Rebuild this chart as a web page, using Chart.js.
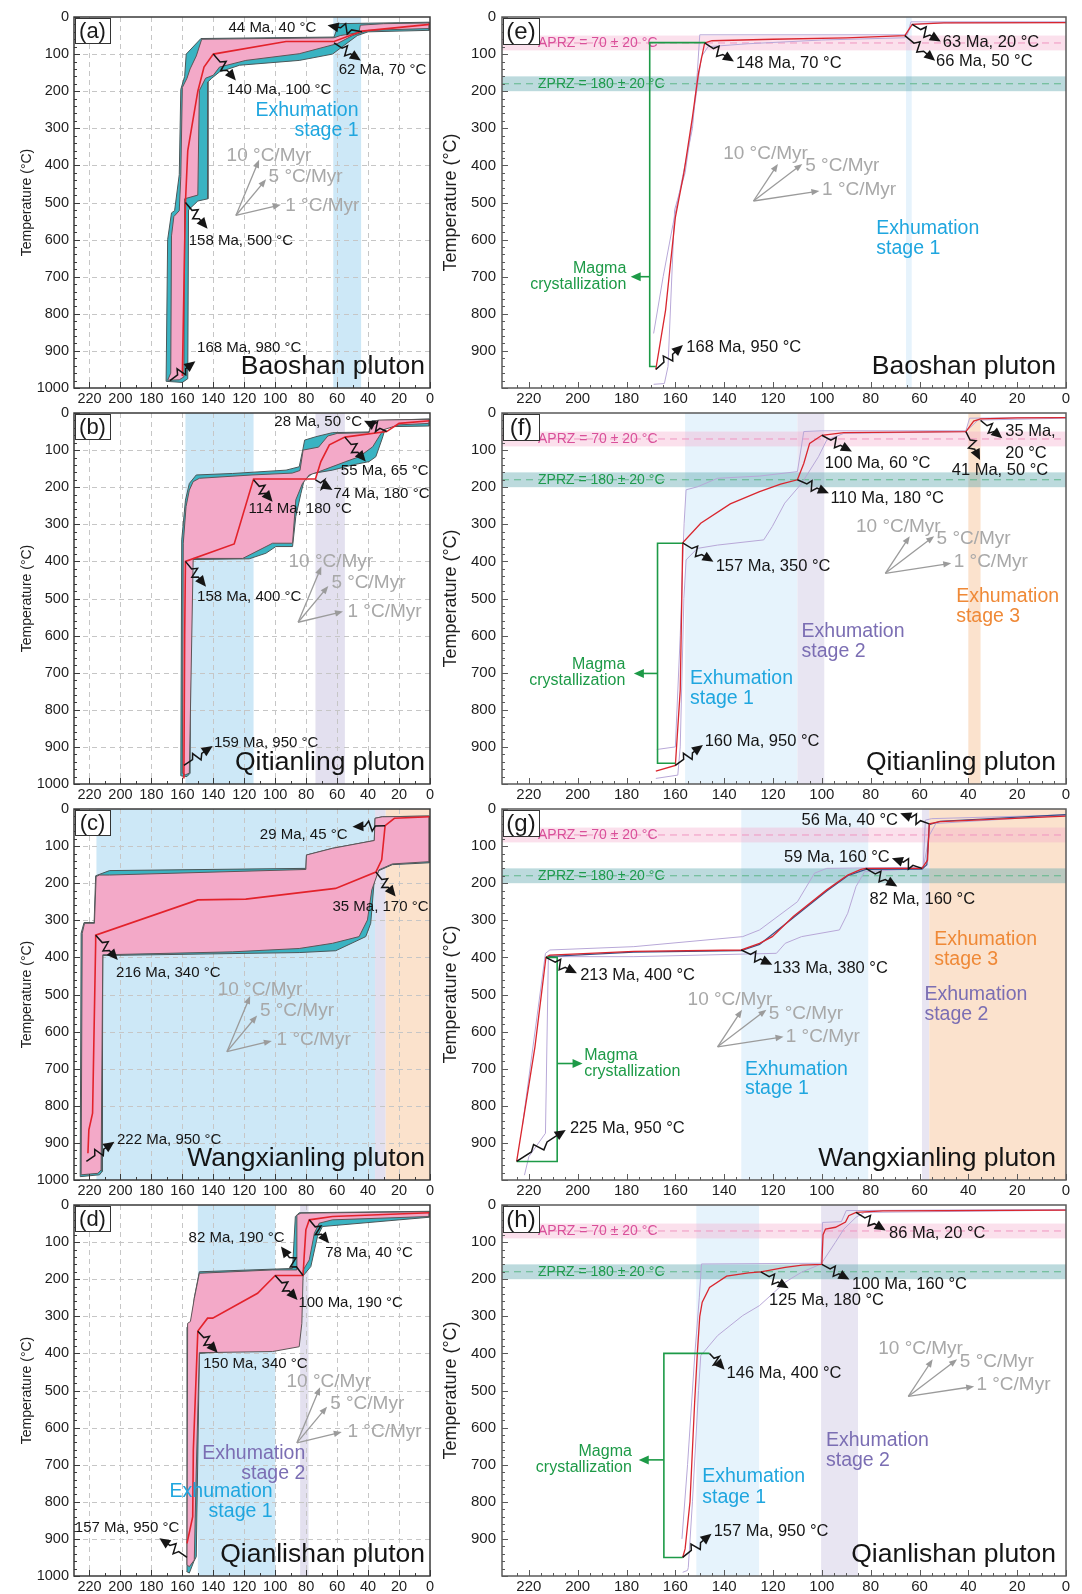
<!DOCTYPE html>
<html>
<head>
<meta charset="utf-8">
<title>Thermal history models</title>
<script src="https://cdn.jsdelivr.net/npm/chart.js@4.4.1/dist/chart.umd.min.js"></script>
<style>
  body { margin: 0; background: #fff; }
  #fig { position: relative; width: 1082px; height: 1594px; overflow: hidden; background: #fff; }
  #fig canvas { position: absolute; }
</style>
</head>
<body>
<div id="fig"></div>
<script>
const FONT = "'Liberation Sans', Arial, Helvetica, sans-serif";
Chart.defaults.font.family = FONT;

// Axes
const ageTicks = [0, 20, 40, 60, 80, 100, 120, 140, 160, 180, 200, 220];
const tempTicksLeft = [0, 100, 200, 300, 400, 500, 600, 700, 800, 900, 1000];
const tempTicksRight = [0, 100, 200, 300, 400, 500, 600, 700, 800, 900];
const coolingRates = [10, 5, 1];
const aprz = [50, 70, 90];    // apatite partial retention zone, °C
const zprz = [160, 180, 200]; // zircon partial retention zone, °C

// ---- HeFTy envelopes, [age Ma, temperature °C] ----
const baoshanAcceptable = [[170.5,982],[169.5,600],[167,528],[165,522],[162,425],[161,195],[158.5,160],[157.5,100],[148,58],[62,54],[59,18],[0.5,14],
  [0.5,36],[40,40],[47,50],[55,75],[63,100],[84.5,117],[123,130],[136,148],[141,165],[143.5,175],[143.5,490],[150,496],[156,520],[156.5,975],[160,985],[170.5,982]];
const baoshanGood = [[169.5,979],[167.5,960],[167,590],[165.5,538],[162,522],[161,430],[160,190],[157,165],[155,140],[151,105],[147.5,60],[62,56],[58,50],[46,42],[45,22],[30,18],[0.5,16],
  [0.5,31],[40,36],[50,50],[60,72],[84.5,99],[119,117],[136,135],[140,157],[145,165],[149,198],[150,480],[158.5,490],[159,970],[162,978],[169.5,979]];
const baoshanMean = [[160,968],[158,500],[156.5,360],[150,200],[146,135],[140,100],[93,66],[62,66],[44,38],[0,20]];

const qitianlingAcceptable = [[161,978],[160.4,342],[158,235],[155.5,190],[151,167],[127.5,163],[93,154],[84.5,145],[82,95],[81,73],[73.8,64],[63,53],[39.4,51],[37.6,21],[0.5,16],
  [0.5,35],[28.6,37],[30.8,68],[35,118],[39.4,131],[50,140],[63,154],[76,163],[81.3,181],[83.4,217],[86.7,279],[88.8,360],[99.6,360],[106,378],[116.8,393],[154.4,395],[155,971],[157,980],[161,978]];
const qitianlingGood = [[160,971],[159.4,351],[157.6,252],[155.5,208],[153,185],[149,176],[115,167],[89,162],[84,155],[82,100],[72,92],[66,62],[60,55],[39.4,53],[37.2,23],[33,19],[0.5,17],
  [0.5,28],[20,32],[30,45],[33,64],[37,91],[45.8,118],[54.4,131],[71.6,158],[78,167],[82.4,190],[86.7,234],[88.8,351],[101.7,351],[121,392],[153,392],[155.5,971],[158,975],[160,971]];
const qitianlingMean = [[159,985],[158.5,600],[158,400],[126.5,353],[114,178],[74,178],[70.5,131],[65,86],[55,65],[28,50],[20,28],[0,21]];

const wangxianlingAcceptable = [[226,991],[225.4,335],[223.5,306],[217,306],[216,180],[207,166],[80.2,160],[79.8,124],[63,106],[36,85],[35.5,25],[30.8,21],[0.5,19],
  [0.5,145],[24.3,150],[33,166],[36,191],[38.3,308],[41.5,344],[60.9,382],[84.5,387],[211.4,395],[211.8,977],[213.5,986],[226,991]];
const wangxianlingGood = [[225.4,986],[224.7,335],[223.2,308],[216.8,308],[215.7,182],[213.5,178],[207,178],[80.2,163],[79.8,124],[63,106],[36,85],[35.5,25],[30.8,21],[0.5,19],
  [0.5,142],[24.3,148],[33,164],[37.6,218],[40.4,299],[45.8,344],[63,362],[84.5,376],[127.5,385],[211.4,393],[212.5,973],[214.6,982],[225.4,986]];
const wangxianlingMean = [[221,928],[220.4,865],[218,820],[216,360],[216,340],[150,245],[119,243],[61,214],[35,170],[31.2,137],[29,45],[23,25],[0,21]];

const qianlishanAcceptable = [[157.2,988],[157,330],[155.9,323],[153.8,314],[152.3,250],[149,180],[88.8,171],[87,31],[84.5,21],[0.5,17],
  [0.5,33],[69.5,58],[72.7,85],[77,166],[82.4,193],[83.4,265],[84,320],[90,330],[94,382],[100,387],[149,400],[151,948],[152.5,960],[155.5,992],[157.2,988]];
const qianlishanGood = [[157,970],[156.6,319],[154.8,314],[152.3,252],[149,184],[101.7,175],[86.2,175],[86,27],[83.4,22],[0.5,18],
  [0.5,31],[63,40],[71.6,49],[74.7,76],[78,148],[81.9,175],[82.8,319],[84.5,382],[101.7,395],[149,398],[151,714],[152.3,957],[155.5,975],[157,970]];
const qianlishanMean = [[157,912],[153.3,840],[152.9,660],[150,340],[143.7,305],[140.4,305],[111.4,238],[100,190],[82,190],[81.3,139],[80.2,67],[78,40],[63,31],[0,21]];

// ---- QTQt paths: weighted mean, cool and hot bounds ----
const baoshanPathMean = [[168,950],[164,790],[160,540],[156.5,420],[153,270],[150.5,150],[148,70],[145,64],[120,60],[90,56],[66,50],[63,20],[50,16],[0,15]];
const baoshanPathCool = [[168.9,853],[165,700],[161,560],[157,430],[153,300],[151,150],[150,48],[65,48],[63.5,13],[0,13]];
const baoshanPathHot = [[168.9,990],[164.5,988],[163,942],[160.3,520],[156,420],[151.4,206],[149.3,107],[146.6,80],[130,72],[100,62],[66,56],[63,20],[55,16],[0,15]];

const qitianlingPathMean = [[168,965],[160,950],[158,747],[157.3,477],[157,350],[149.6,297],[137.5,245],[125.5,212],[116.9,192],[110,180],[107.4,136],[105,82],[100,60],[91,53],[41,50],[37.8,22],[35,16],[20,13],[0,12.6]];
const qitianlingPathCool = [[167.6,907],[160,900],[158,600],[156.4,297],[155.6,207],[151,199],[142.7,176],[125.5,170],[110,158],[107.4,50],[100,48],[41,48],[39.5,14],[0,12]];
const qitianlingPathHot = [[168,985],[159,976],[158,900],[156.5,500],[155.6,396],[151,365],[142.7,356],[123.8,342],[120.3,306],[115.2,243],[108.3,190],[101.4,118],[98,73],[91,55],[41,50],[36,19],[0,14]];

const wangxianlingPathMean = [[225,950],[217.5,641],[213,400],[211.4,394],[177,384],[133,380],[125.5,362],[120.3,344],[111.7,290],[98,218],[89.4,178],[84,163],[82,160],[59,160],[56.7,138],[56,40],[51.6,34],[0,19]];
const wangxianlingPathMax = [[213,398],[177,386],[133,382],[125.5,365],[111.7,293],[98,221],[89.4,180],[82,163],[59,162],[57,150],[56,42],[51.6,33],[0,15]];
const wangxianlingPathCool = [[222.6,852],[213.2,389],[211.4,380],[177,371],[132.4,344],[125.5,326],[110,250],[103,173],[98,160],[58.5,157],[57.6,30],[55,26],[0,16]];
const wangxianlingPathHot = [[221.8,987],[220,937],[213.2,874],[212,394],[209,398],[177,398],[118.6,389],[115,362],[108.3,344],[92.8,326],[89.4,281],[86,209],[82.5,169],[58.5,160],[55.9,70],[53.3,39],[0,17]];

const qianlishanPathMean = [[157,950],[156,927],[154,800],[152.1,532],[151,400],[150,300],[149,262],[146,222],[139,192],[130,183],[125,180],[115,168],[108,162],[100,160],[99.5,80],[98.5,65],[94.4,60],[90.3,46],[89,29],[86,20],[75,16],[0,14]];
const qianlishanPathCool = [[157.3,900],[155,700],[152,400],[150.2,250],[149.3,159],[100.3,157],[99.7,47],[92,45],[90,15],[0,12]];
const qianlishanPathHot = [[157,990],[155,985],[154.7,977],[153,800],[150.5,500],[149.6,406],[142.7,352],[132.4,298],[125.5,271],[115,208],[108.3,181],[100.3,159],[94.5,101],[91,65],[86,33],[82.5,20],[0,14]];

// ---- Exhumation stages, [young, old] Ma, stage 1..3 ----
const baoshanStagesHefty = [[44.5, 62.5]];
const qitianlingStagesHefty = [[114, 158], [55, 74]];
const wangxianlingStagesHefty = [[35.5, 215.5], [28.6, 35.5], [0, 28.6]];
const qianlishanStagesHefty = [[100, 150], [78.5, 83.9]];
const baoshanStagesQtqt = [[63.2, 65.5]];
const qitianlingStagesQtqt = [[110, 156], [99, 110], [35, 40]];
const wangxianlingStagesQtqt = [[81, 133], [56, 59], [0, 56]];
const qianlishanStagesQtqt = [[125.7, 151.4], [85.2, 100.3]];

// ---- layout ----
const panelTops = [17, 413, 809, 1205];
const stageFill = { left: ['#cde8f7', '#e3e0ef', '#fbe2cc'], right: ['#e6f3fc', '#e8e5f2', '#fbe2cd'] };
const stageText = ['#1fa6df', '#7b6eb3', '#ef8937'];

const panels = [
  { tag: '(a)', col: 0, row: 0, name: 'Baoshan pluton',
    acceptable: baoshanAcceptable, good: baoshanGood, mean: baoshanMean, stages: baoshanStagesHefty,
    stageLabels: [{ stage: 1, at: [46.2, 252, 305], align: 'right' }],
    rates: { origin: [125.4, 535], labels: [[131.4, 373], [104.3, 429.5], [93.5, 507.6]] },
    notes: [
      { at: [44, 40], head: [66.2, 22.5], label: [73.5, 30], align: 'right' },
      { at: [62, 70], head: [44.7, 117], label: [59, 142] },
      { at: [140, 100], head: [125.4, 171], label: [131.2, 196] },
      { at: [158, 500], head: [143.7, 570.5], label: [155.9, 604] },
      { at: [168, 980], head: [151.6, 928], label: [150.5, 892] }] },
  { tag: '(b)', col: 0, row: 1, name: 'Qitianling pluton',
    acceptable: qitianlingAcceptable, good: qitianlingGood, mean: qitianlingMean, stages: qitianlingStagesHefty,
    stageLabels: [],
    rates: { origin: [85.2, 564], labels: [[91.4, 401], [63.7, 457], [53.3, 535]] },
    notes: [
      { at: [28, 50], head: [42.6, 20.7], label: [43.9, 25], align: 'right' },
      { at: [55, 65], head: [41.5, 131], label: [57.6, 156] },
      { at: [74, 180], head: [63, 207.5], label: [62.4, 218] },
      { at: [114, 180], head: [101.7, 239], label: [117.2, 259] },
      { at: [158, 400], head: [144.7, 468], label: [150.5, 495] },
      { at: [159, 950], head: [140.4, 897.6], label: [139.6, 888] }] },
  { tag: '(c)', col: 0, row: 2, name: 'Wangxianling pluton',
    acceptable: wangxianlingAcceptable, good: wangxianlingGood, mean: wangxianlingMean, stages: wangxianlingStagesHefty,
    stageLabels: [],
    rates: { origin: [131.2, 654], labels: [[137.2, 488], [109.9, 543.6], [99.1, 622.6]] },
    notes: [
      { at: [29, 45], head: [50.1, 47.6], label: [53.3, 70], align: 'right' },
      { at: [35, 170], head: [22.2, 236], label: [63, 263] },
      { at: [216, 340], head: [201.7, 407], label: [202.8, 441] },
      { at: [222, 950], head: [203.9, 897], label: [202.2, 892] }] },
  { tag: '(d)', col: 0, row: 3, name: 'Qianlishan pluton',
    acceptable: qianlishanAcceptable, good: qianlishanGood, mean: qianlishanMean, stages: qianlishanStagesHefty,
    stageLabels: [{ stage: 2, at: [80.6, 669, 723], align: 'right' }, { stage: 1, at: [101.7, 773, 827], align: 'right' }],
    rates: { origin: [86, 641], labels: [[92.7, 476], [64.5, 534.6], [53.3, 611]] },
    notes: [
      { at: [82, 190], head: [96.3, 112], label: [156, 88] },
      { at: [78, 40], head: [65.2, 103], label: [67.7, 130] },
      { at: [100, 190], head: [85.6, 256], label: [85, 265] },
      { at: [150, 340], head: [137.2, 398], label: [146.5, 427] },
      { at: [157, 950], head: [174.8, 898], label: [162, 869], align: 'right' }] },

  { tag: '(e)', col: 1, row: 0, name: 'Baoshan pluton',
    mean: baoshanPathMean, cool: baoshanPathCool, hot: baoshanPathHot, stages: baoshanStagesQtqt,
    stageLabels: [{ stage: 1, at: [77.7, 570, 623] }],
    magma: { x: 170.5, top: 69, bottom: 942, topTo: 147.6, bottomTo: 168, arrowT: 700, arrowTo: 178.3, textAt: 180.1, textT: [677, 720] },
    rates: { origin: [128, 496], labels: [[140.4, 369], [106.8, 401.6], [99.9, 466]] },
    notes: [
      { at: [148, 70], head: [136, 120], label: [135.2, 125] },
      { at: [66, 50], head: [53.6, 118], label: [53.2, 120] },
      { at: [63, 20], head: [51.3, 66], label: [50.5, 69] },
      { at: [168, 950], head: [156.9, 884], label: [155.5, 891] }] },
  { tag: '(f)', col: 1, row: 1, name: 'Qitianling pluton',
    mean: qitianlingPathMean, cool: qitianlingPathCool, hot: qitianlingPathHot, stages: qitianlingStagesQtqt,
    stageLabels: [{ stage: 1, at: [154, 715, 769] }, { stage: 2, at: [108.3, 589, 643] }, { stage: 3, at: [45, 495, 549] }],
    magma: { x: 167.3, top: 351, bottom: 944, topTo: 157, bottomTo: 160, arrowT: 702, arrowTo: 177, textAt: 180.5, textT: [679, 721] },
    rates: { origin: [74, 432], labels: [[86, 306], [53, 337.8], [46, 400.7]] },
    notes: [
      { at: [35, 20], head: [26.1, 68], label: [24.9, 50, 109] },
      { at: [41, 50], head: [35.2, 127], label: [46.8, 154] },
      { at: [100, 60], head: [87.7, 104], label: [98.8, 136] },
      { at: [110, 180], head: [97.1, 216.5], label: [96.5, 230] },
      { at: [157, 350], head: [144.4, 401], label: [143.5, 414] },
      { at: [160, 950], head: [148.7, 895], label: [148, 886] }] },
  { tag: '(g)', col: 1, row: 2, name: 'Wangxianling pluton',
    mean: wangxianlingPathMean, max: wangxianlingPathMax, cool: wangxianlingPathCool, hot: wangxianlingPathHot, stages: wangxianlingStagesQtqt,
    stageLabels: [{ stage: 3, at: [54, 351, 405] }, { stage: 2, at: [58, 500, 554] }, { stage: 1, at: [131.5, 702, 755] }],
    magma: { x: 208.4, top: 400, bottom: 950, topTo: 213, bottomTo: 225, arrowT: 686, arrowTo: 198, textAt: 197.3, textT: [666, 708] },
    rates: { origin: [142.7, 641], labels: [[155, 515], [121.7, 551], [114.8, 613.7]] },
    notes: [
      { at: [56, 40], head: [67.9, 11.7], label: [68.8, 29.6], align: 'right' },
      { at: [59, 160], head: [71.3, 133], label: [72.2, 130], align: 'right' },
      { at: [82, 160], head: [69.1, 209], label: [80.5, 243.5] },
      { at: [133, 380], head: [120.3, 420], label: [120, 429] },
      { at: [213, 400], head: [200.3, 443], label: [199, 450] },
      { at: [225, 950], head: [204.9, 865], label: [203.2, 861] }] },
  { tag: '(h)', col: 1, row: 3, name: 'Qianlishan pluton',
    mean: qianlishanPathMean, cool: qianlishanPathCool, hot: qianlishanPathHot, stages: qianlishanStagesQtqt,
    stageLabels: [{ stage: 2, at: [98.3, 635, 689] }, { stage: 1, at: [149, 731, 788] }],
    magma: { x: 164.7, top: 400, bottom: 950, topTo: 146, bottomTo: 157, arrowT: 687, arrowTo: 175, textAt: 177.8, textT: [664, 707] },
    rates: { origin: [64.6, 516], labels: [[76.9, 388], [43.5, 422], [36.7, 485]] },
    notes: [
      { at: [86, 20], head: [73.9, 69], label: [72.5, 78] },
      { at: [100, 160], head: [88.7, 201], label: [87.6, 213] },
      { at: [125, 180], head: [113.6, 224.6], label: [121.6, 258] },
      { at: [146, 400], head: [139.8, 444], label: [139, 455] },
      { at: [157, 950], head: [145.2, 886], label: [144.3, 880] }] }
];

// ---- drawing helpers ----
const pts = arr => arr.map(([x, y]) => ({ x, y }));

function line(ctx, x0, y0, x1, y1) {
  ctx.beginPath(); ctx.moveTo(x0, y0); ctx.lineTo(x1, y1); ctx.stroke();
}

function arrowHead(ctx, x0, y0, x1, y1, len, half) {
  const L = Math.hypot(x1 - x0, y1 - y0), ux = (x1 - x0) / L, uy = (y1 - y0) / L;
  ctx.beginPath();
  ctx.moveTo(x1, y1);
  ctx.lineTo(x1 - ux * len - uy * half, y1 - uy * len + ux * half);
  ctx.lineTo(x1 - ux * len + uy * half, y1 - uy * len - ux * half);
  ctx.closePath();
  ctx.fill();
}

function arrow(ctx, x0, y0, x1, y1, len, half) {
  const L = Math.hypot(x1 - x0, y1 - y0);
  line(ctx, x0, y0, x1 - (x1 - x0) / L * len * 0.7, y1 - (y1 - y0) / L * len * 0.7);
  arrowHead(ctx, x0, y0, x1, y1, len, half);
}

// call-out arrow with a small zigzag in the shaft
function zigArrow(ctx, x0, y0, x1, y1) {
  const L = Math.hypot(x1 - x0, y1 - y0), ux = (x1 - x0) / L, uy = (y1 - y0) / L;
  const at = (t, o) => [x0 + ux * L * t - uy * o, y0 + uy * L * t + ux * o];
  ctx.beginPath();
  ctx.moveTo(x0, y0);
  [[0.3, 0], [0.4, -5], [0.5, 5], [0.62, 0]].forEach(([t, o]) => ctx.lineTo(...at(t, o)));
  ctx.lineTo(x1 - ux * 8, y1 - uy * 8);
  ctx.stroke();
  arrowHead(ctx, x0, y0, x1, y1, 11, 5);
}

function text(ctx, str, x, y, size, color, align) {
  ctx.font = `${size}px ${FONT}`;
  ctx.fillStyle = color;
  ctx.textAlign = align || 'left';
  ctx.textBaseline = 'middle';
  ctx.fillText(str, x, y);
}

function panelPlugin(p) {
  const left = p.col === 0;
  return {
    id: 'panel' + p.col + p.row,
    beforeDatasetsDraw(chart) {
      const { ctx, chartArea: a, scales: { x, y } } = chart;
      ctx.save();
      // exhumation stage bands
      p.stages.forEach((s, i) => {
        const x0 = x.getPixelForValue(s[1]), x1 = x.getPixelForValue(s[0]);
        ctx.fillStyle = stageFill[left ? 'left' : 'right'][i];
        ctx.fillRect(x0, a.top, x1 - x0, a.bottom - a.top);
      });
      if (left) {
        // dashed grid
        ctx.strokeStyle = '#c6c6c6';
        ctx.lineWidth = 1;
        ctx.setLineDash([5, 4]);
        ageTicks.forEach(v => {
          if (v === 0) return;
          const px = Math.round(x.getPixelForValue(v)) + 0.5;
          line(ctx, px, a.top, px, a.bottom);
        });
        tempTicksLeft.forEach(v => {
          if (v === 0 || v === 1000) return;
          const py = Math.round(y.getPixelForValue(v)) + 0.5;
          line(ctx, a.left, py, a.right, py);
        });
      } else {
        // partial retention zones
        [[aprz, 'rgba(243,170,203,0.36)', '#f095c0'], [zprz, 'rgba(96,166,175,0.42)', '#5fb78a']].forEach(([z, fill, dash]) => {
          const y0 = y.getPixelForValue(z[0]), y1 = y.getPixelForValue(z[2]);
          ctx.fillStyle = fill;
          ctx.fillRect(a.left, y0, a.right - a.left, y1 - y0);
          ctx.strokeStyle = dash;
          ctx.lineWidth = 1;
          ctx.setLineDash([7, 5]);
          const yc = y.getPixelForValue(z[1]);
          line(ctx, a.left, yc, a.right, yc);
        });
      }
      ctx.restore();
    },
    afterDatasetsDraw(chart) {
      const { ctx, chartArea: a, scales: { x, y } } = chart;
      const X = v => x.getPixelForValue(v), Y = v => y.getPixelForValue(v);
      ctx.save();

      if (!left) {
        text(ctx, `APRZ = ${aprz[1]} ± ${aprz[1] - aprz[0]} °C`, a.left + 36, Y(aprz[1]), 14, '#d9509a');
        text(ctx, `ZPRZ = ${zprz[1]} ± ${zprz[1] - zprz[0]} °C`, a.left + 36, Y(zprz[1]), 14, '#1f9a4d');

        // magma crystallization bracket
        const g = p.magma, gx = X(g.x);
        ctx.strokeStyle = ctx.fillStyle = '#1d9a47';
        ctx.lineWidth = 1.6;
        ctx.beginPath();
        ctx.moveTo(X(g.topTo), Y(g.top));
        ctx.lineTo(gx, Y(g.top));
        ctx.lineTo(gx, Y(g.bottom));
        ctx.lineTo(X(g.bottomTo), Y(g.bottom));
        ctx.stroke();
        arrow(ctx, gx, Y(g.arrowT), X(g.arrowTo), Y(g.arrowT), 10, 4.5);
        const gAlign = g.arrowTo > g.x ? 'right' : 'left';
        ['Magma', 'crystallization'].forEach((s, i) => text(ctx, s, X(g.textAt), Y(g.textT[i]), 16, '#1d9a47', gAlign));
      }

      // cooling-rate reference arrows
      const r = p.rates, run = left ? [15, 19.5, 29] : [10, 20, 27];
      const ox = X(r.origin[0]), oy = Y(r.origin[1]);
      ctx.strokeStyle = ctx.fillStyle = '#9b9b9b';
      ctx.lineWidth = 1.3;
      ctx.setLineDash([]);
      coolingRates.forEach((rate, i) => {
        arrow(ctx, ox, oy, X(r.origin[0] - run[i]), Y(r.origin[1] - rate * run[i]), 8, 3.2);
      });
      coolingRates.forEach((rate, i) => {
        text(ctx, `${rate} °C/Myr`, X(r.labels[i][0]), Y(r.labels[i][1]), 19, '#a8a8a8');
      });

      // exhumation stage labels
      p.stageLabels.forEach(s => {
        const c = stageText[s.stage - 1];
        text(ctx, 'Exhumation', X(s.at[0]), Y(s.at[1]), 19.5, c, s.align);
        text(ctx, `stage ${s.stage}`, X(s.at[0]), Y(s.at[2]), 19.5, c, s.align);
      });

      // age–temperature call-outs
      ctx.strokeStyle = ctx.fillStyle = '#151515';
      ctx.lineWidth = 1.5;
      p.notes.forEach(n => {
        zigArrow(ctx, X(n.at[0]), Y(n.at[1]), X(n.head[0]), Y(n.head[1]));
        const size = left ? 15 : 16.5;
        if (n.label.length === 3) {
          text(ctx, `${n.at[0]} Ma,`, X(n.label[0]), Y(n.label[1]), size, '#151515', n.align);
          text(ctx, `${n.at[1]} °C`, X(n.label[0]), Y(n.label[2]), size, '#151515', n.align);
        } else {
          text(ctx, `${n.at[0]} Ma, ${n.at[1]} °C`, X(n.label[0]), Y(n.label[1]), size, '#151515', n.align);
        }
      });

      // frame and inward ticks
      ctx.strokeStyle = left ? '#3a3a3a' : '#5a5a5a';
      ctx.lineWidth = 1.5;
      ctx.strokeRect(a.left, a.top, a.right - a.left, a.bottom - a.top);
      ctx.lineWidth = 1;
      for (let v = 0; v <= 1000; v += 20) {
        const py = Math.round(Y(v)) + 0.5;
        line(ctx, a.left, py, a.left + (v % 100 === 0 ? 6 : 3), py);
      }
      const minor = left ? 10 : 5;
      for (let v = 0; v <= 225; v += minor) {
        const px = Math.round(X(v)) + 0.5;
        line(ctx, px, a.bottom, px, a.bottom - (v % 20 === 0 ? 6 : 3));
      }

      // panel tag
      const bw = left ? 35 : 36, bh = left ? 25 : 26;
      ctx.fillStyle = '#fff';
      ctx.fillRect(a.left + 1, a.top + 1, bw, bh);
      ctx.strokeStyle = '#333';
      ctx.lineWidth = 1;
      ctx.strokeRect(a.left + 1.5, a.top + 1.5, bw, bh);
      text(ctx, p.tag, a.left + 1 + bw / 2, a.top + 2 + bh / 2, left ? 22 : 24, '#1a1a1a', 'center');

      // pluton name
      text(ctx, p.name, a.right - (left ? 5 : 10), a.bottom - 21, 26.5, '#151515', 'right');

      // y-axis title
      ctx.save();
      ctx.translate(left ? 27 : 11, (a.top + a.bottom) / 2);
      ctx.rotate(-Math.PI / 2);
      text(ctx, 'Temperature (°C)', 0, 0, left ? 14 : 18, '#1e1e1e', 'center');
      ctx.restore();

      ctx.restore();
    }
  };
}

const fig = document.getElementById('fig');

function buildChart(p) {
  const left = p.col === 0;
  const W = left ? 440 : 642, H = 412;
  const cv = document.createElement('canvas');
  cv.width = W;
  cv.height = H;
  Object.assign(cv.style, {
    left: (left ? 0 : 440) + 'px', top: (panelTops[p.row] - 17) + 'px', width: W + 'px', height: H + 'px'
  });
  fig.appendChild(cv);

  const base = { pointRadius: 0, pointHoverRadius: 0, tension: 0, fill: false };
  const datasets = left ? [
    { ...base, data: pts(p.acceptable), fill: 'shape', backgroundColor: '#3ab3c2', borderColor: '#4a5759', borderWidth: 1, order: 3 },
    { ...base, data: pts(p.good), fill: 'shape', backgroundColor: '#f3a9c8', borderColor: '#5d5557', borderWidth: 1, order: 2 },
    { ...base, data: pts(p.mean), borderColor: '#e3222b', borderWidth: 1.6, order: 1 }
  ] : [
    { ...base, data: pts(p.cool), borderColor: '#b8a8d8', borderWidth: 1, order: 4 },
    { ...base, data: pts(p.hot), borderColor: '#b8a8d8', borderWidth: 1, order: 4 },
    ...(p.max ? [{ ...base, data: pts(p.max), borderColor: '#3c4f86', borderWidth: 1.2, order: 3 }] : []),
    { ...base, data: pts(p.mean), borderColor: '#d9262e', borderWidth: 1.3, order: 1 }
  ];

  const tickFont = { family: FONT, size: left ? 14.5 : 15 };
  new Chart(cv, {
    type: 'line',
    data: { datasets },
    options: {
      responsive: false,
      animation: false,
      devicePixelRatio: 1,
      events: [],
      layout: { padding: { top: 17, right: left ? 10 : 16, left: 0, bottom: 0 } },
      plugins: { legend: { display: false }, tooltip: { enabled: false } },
      scales: {
        x: {
          type: 'linear', reverse: true, min: 0, max: left ? 230 : 231,
          grid: { display: false, drawTicks: false }, border: { display: false },
          afterBuildTicks: s => { s.ticks = ageTicks.map(v => ({ value: v })); },
          afterFit: s => { s.height = 24; },
          ticks: { font: tickFont, color: '#1e1e1e', padding: 2, maxRotation: 0, autoSkip: false, callback: v => String(v) }
        },
        y: {
          type: 'linear', reverse: true, min: 0, max: 1000,
          grid: { display: false, drawTicks: false }, border: { display: false },
          afterBuildTicks: s => { s.ticks = (left ? tempTicksLeft : tempTicksRight).map(v => ({ value: v })); },
          afterFit: s => { s.width = left ? 74 : 62; },
          ticks: { font: tickFont, color: '#1e1e1e', padding: left ? 5 : 6, autoSkip: false, callback: v => String(v) }
        }
      }
    },
    plugins: [panelPlugin(p)]
  });
}

panels.forEach(buildChart);
</script>
</body>
</html>
